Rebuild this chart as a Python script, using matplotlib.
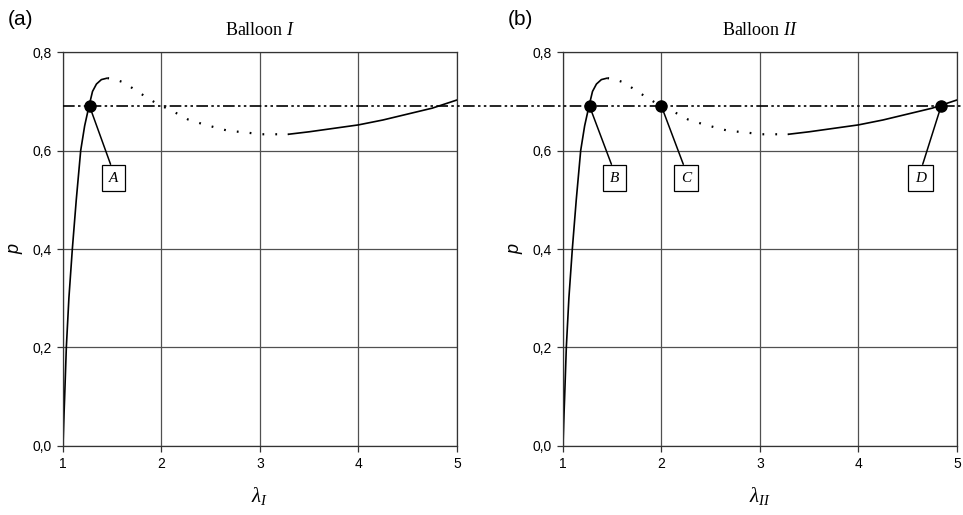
import numpy as np
import matplotlib
matplotlib.use("Agg")
import matplotlib.pyplot as plt
from matplotlib.lines import Line2D
from matplotlib.transforms import blended_transform_factory

plt.rcParams['mathtext.fontset'] = 'custom'
plt.rcParams['mathtext.rm'] = 'Liberation Serif'
plt.rcParams['mathtext.it'] = 'Liberation Serif:italic'
plt.rcParams['mathtext.bf'] = 'Liberation Serif:bold'

# pressure-stretch curve
lam_rise = [1.0, 1.008, 1.017, 1.034, 1.06, 1.095, 1.135, 1.18, 1.22, 1.264, 1.30, 1.34, 1.39, 1.45]
p_rise = [0.0, 0.05, 0.1, 0.2, 0.3, 0.4, 0.5, 0.6, 0.65, 0.69, 0.72, 0.735, 0.744, 0.747]
lam_unst = [1.45, 1.52, 1.62, 1.77, 1.93, 2.02, 2.19, 2.27, 2.43, 2.6, 2.68, 2.84, 3.01, 3.1, 3.29]
p_unst = [0.747, 0.745, 0.738, 0.718, 0.698, 0.689, 0.672, 0.663, 0.653, 0.644, 0.640, 0.637, 0.633, 0.633, 0.633]
lam_st = [3.29, 3.5, 3.75, 4.0, 4.25, 4.5, 4.75, 5.0]
p_st = [0.633, 0.638, 0.645, 0.652, 0.662, 0.674, 0.686, 0.7025]

p_level = 0.69
pts_a = [1.27]
names_a = ['A']
pts_b = [1.27, 2.0, 4.84]
names_b = ['B', 'C', 'D']
box_x_a = [1.51]
box_x_b = [1.52, 2.25, 4.63]

xticks = [1, 2, 3, 4, 5]
yticks = [0.0, 0.2, 0.4, 0.6, 0.8]
ytick_labels = ['0,0', '0,2', '0,4', '0,6', '0,8']

fig = plt.figure(figsize=(9.63, 5.15), dpi=100)
ax1 = fig.add_axes([0.0654, 0.134, 0.409, 0.765])
ax2 = fig.add_axes([0.5846, 0.134, 0.409, 0.765])

gridc = '#505050'


def panel(ax, pts, names, box_x, title, xlab, tag):
    ax.plot(lam_rise, p_rise, color='black', lw=1.2, solid_capstyle='butt')
    ax.plot(lam_unst, p_unst, color='black', lw=1.6, linestyle=(0, (0.8, 5)))
    ax.plot(lam_st, p_st, color='black', lw=1.2)
    ax.plot(pts, [p_level] * len(pts), 'o', color='black', ms=8, zorder=5)
    for x, n, bx in zip(pts, names, box_x):
        ax.annotate(n, xy=(x, p_level), xytext=(bx, 0.544),
                    fontfamily='Liberation Serif', fontstyle='italic', fontsize=11,
                    ha='center', va='center',
                    bbox=dict(boxstyle='square,pad=0.45', fc='white', ec='black', lw=0.9),
                    arrowprops=dict(arrowstyle='-', color='black', lw=1.1,
                                    relpos=(0.5, 1.0), shrinkA=0, shrinkB=0),
                    zorder=6)
    ax.set_xlim(1, 5)
    ax.set_ylim(0, 0.8)
    ax.set_xticks(xticks)
    ax.set_yticks(yticks)
    ax.set_yticklabels(ytick_labels)
    for lab in ax.get_xticklabels() + ax.get_yticklabels():
        lab.set_fontfamily('Liberation Sans')
        lab.set_fontsize(10)
    ax.tick_params(direction='out', length=4, width=0.9, color='#333333', pad=4)
    ax.grid(True, color=gridc, lw=0.9)
    ax.set_axisbelow(True)
    for s in ax.spines.values():
        s.set_color('#333333')
        s.set_linewidth(0.9)
    ax.set_facecolor('none')
    ax.set_title(title, fontfamily='Liberation Serif', fontsize=13, pad=12)
    ax.set_xlabel(xlab, fontsize=15)
    ax.xaxis.set_label_coords(0.5, -0.1)
    ax.set_ylabel('p', fontfamily='Liberation Sans', fontstyle='italic', fontsize=13)
    ax.yaxis.set_label_coords(-0.1, 0.5)
    fig.text(ax.get_position().x0 - 0.057, 0.962, tag, fontfamily='Liberation Sans',
             fontsize=15, va='center', ha='left')


panel(ax1, pts_a, names_a, box_x_a, r'Balloon $I$', r'$\lambda_{I}$', '(a)')
panel(ax2, pts_b, names_b, box_x_b, r'Balloon $II$', r'$\lambda_{II}$', '(b)')

# dash-dot-dot level line running across both panels
tr = blended_transform_factory(fig.transFigure, ax1.transData)
fig.add_artist(Line2D([ax1.get_position().x0, 1.0], [p_level, p_level], transform=tr,
                      color='black', lw=1.2, linestyle=(0, (7, 2, 1.5, 2, 1.5, 2))))

fig.savefig('out.png', dpi=100, facecolor='white')
